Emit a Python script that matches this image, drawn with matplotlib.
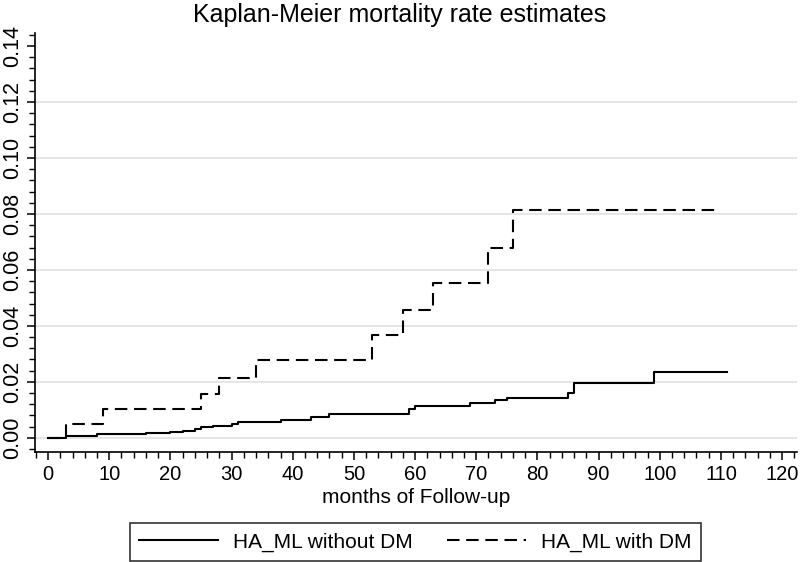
import matplotlib
matplotlib.use("Agg")
import matplotlib.pyplot as plt
from matplotlib.ticker import MultipleLocator

plt.rcParams["font.family"] = ["Liberation Sans", "DejaVu Sans"]

# Kaplan-Meier step data (months, cumulative mortality)
no_dm_months = [0, 3, 4, 8, 16, 20, 22, 24, 25, 27, 30, 31, 38, 43, 46,
                59, 60, 69, 73, 75, 85, 86, 99, 111]
no_dm_rate = [0.0, 0.0005, 0.0008, 0.0013, 0.0017, 0.0021, 0.0026, 0.0031,
              0.0037, 0.0043, 0.0050, 0.0057, 0.0064, 0.0073, 0.0085,
              0.0104, 0.0113, 0.0123, 0.0135, 0.0144, 0.0161, 0.0196,
              0.0235, 0.0235]

dm_months = [0, 3, 9, 25, 28, 34, 53, 58, 63, 72, 76, 109]
dm_rate = [0.0, 0.0050, 0.0102, 0.0157, 0.0215, 0.0279, 0.0366, 0.0456,
           0.0555, 0.0680, 0.0814, 0.0814]

x_ticks = list(range(0, 121, 10))
y_ticks = [0.00, 0.02, 0.04, 0.06, 0.08, 0.10, 0.12, 0.14]

fig = plt.figure(figsize=(8, 5.62), dpi=100)
ax = fig.add_axes([0.044, 0.196, 0.952, 0.745])

for y in y_ticks[:-1]:
    ax.axhline(y, color="#e3e3e3", lw=1.3, zorder=0)

ax.step(no_dm_months, no_dm_rate, where="post", color="black", lw=1.5,
        label="HA_ML without DM")
ax.step(dm_months, dm_rate, where="post", color="black", lw=1.5,
        dashes=(6, 3.2), label="HA_ML with DM")

ax.set_xlim(-2.1, 122.4)
ax.set_ylim(-0.005, 0.1446)
ax.set_xticks(x_ticks)
ax.set_yticks(y_ticks)
ax.set_yticklabels([f"{v:.2f}" for v in y_ticks], rotation=90, va="center")
ax.xaxis.set_minor_locator(MultipleLocator(2))
ax.yaxis.set_minor_locator(MultipleLocator(0.004))
ax.tick_params(axis="both", which="major", length=6, width=1.1,
               direction="out")
ax.tick_params(axis="x", which="major", labelsize=14.5)
ax.tick_params(axis="y", which="major", labelsize=15.5, pad=3)
ax.tick_params(axis="both", which="minor", length=4, width=1.0,
               direction="out")

for side in ["top", "right"]:
    ax.spines[side].set_visible(False)
for side in ["left", "bottom"]:
    ax.spines[side].set_linewidth(1.2)

ax.set_xlabel("months of Follow-up", fontsize=15, labelpad=3)
fig.suptitle("Kaplan-Meier mortality rate estimates", fontsize=18, y=0.995)

leg = fig.legend(loc="lower center", bbox_to_anchor=(0.519, 0.0015), ncol=2,
                 fontsize=15, frameon=True, fancybox=False, handlelength=3.8,
                 handletextpad=0.72, columnspacing=1.63, borderpad=0.45,
                 borderaxespad=0)
leg.get_frame().set_edgecolor("black")
leg.get_frame().set_linewidth(1.2)

fig.savefig("out.png", dpi=100)
